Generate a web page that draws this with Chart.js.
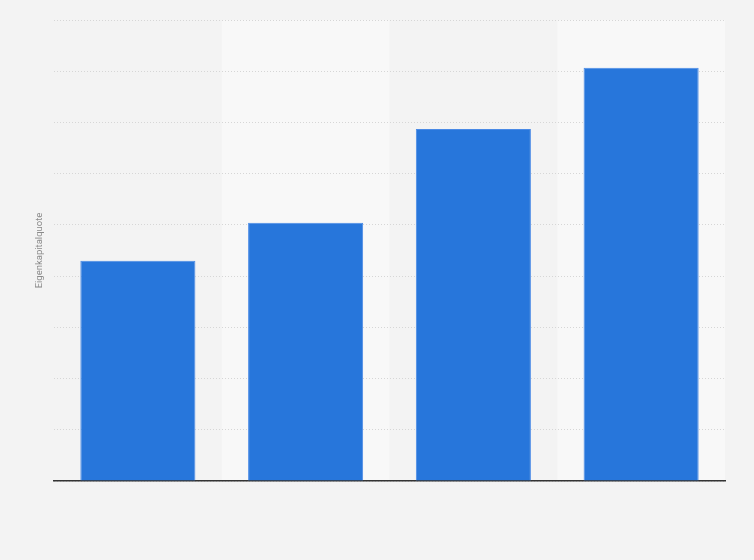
<!DOCTYPE html>
<html>
<head>
<meta charset="utf-8">
<script src="https://cdn.jsdelivr.net/npm/chart.js@4/dist/chart.umd.min.js"></script>
<style>
    html, body { margin: 0; padding: 0; background: #f3f3f3; }
    #wrap { width: 754px; height: 560px; }
</style>
</head>
<body>
<div id="wrap"><canvas id="chart"></canvas></div>
<script>
// Données du graphique
const categories = ['2019', '2020', '2021', '2022'];
const eigenkapitalquote = [4.3, 5.04, 6.87, 8.07];
const yMax = 9;

// Bandes alternées en arrière-plan
const bandsPlugin = {
    id: 'bands',
    beforeDraw(chart) {
        const { ctx, chartArea, scales } = chart;
        const x = scales.x;
        ctx.save();
        ctx.fillStyle = '#f8f8f8';
        categories.forEach((c, i) => {
            if (i % 2 === 1) {
                const left = x.getPixelForValue(i) - x.width / categories.length / 2;
                ctx.fillRect(left, chartArea.top, x.width / categories.length, chartArea.bottom - chartArea.top);
            }
        });
        ctx.restore();
    }
};

const ctx = document.getElementById('chart').getContext('2d');
const chart = new Chart(ctx, {
    type: 'bar',
    data: {
        labels: categories,
        datasets: [{
            label: 'Eigenkapitalquote',
            data: eigenkapitalquote,
            backgroundColor: '#2776db',
            borderColor: '#4a8ae6',
            borderWidth: { top: 1, left: 1, right: 1, bottom: 0 },
            borderSkipped: 'bottom',
            categoryPercentage: 0.686,
            barPercentage: 1
        }]
    },
    options: {
        responsive: true,
        maintainAspectRatio: false,
        animation: false,
        layout: {
            padding: { left: 30, right: 29, top: 20, bottom: 79 }
        },
        plugins: {
            legend: { display: false },
            tooltip: { enabled: false }
        },
        scales: {
            x: {
                ticks: { display: false },
                grid: { display: false, drawTicks: false },
                border: { display: true, color: '#333333', width: 1.5 },
                afterFit(scale) { scale.height = 0; }
            },
            y: {
                min: 0,
                max: yMax,
                ticks: { display: false, stepSize: 1 },
                grid: { color: '#d6d6d6', drawTicks: false, lineWidth: 1 },
                border: { display: false, dash: [1, 2] },
                title: {
                    display: true,
                    text: 'Eigenkapitalquote',
                    color: '#8a8a8a',
                    font: { family: 'Roboto', size: 9.5 },
                    padding: { top: 4, bottom: 4 }
                },
                afterFit(scale) { scale.width = 24; }
            }
        }
    },
    plugins: [bandsPlugin]
});
</script>
</body>
</html>
